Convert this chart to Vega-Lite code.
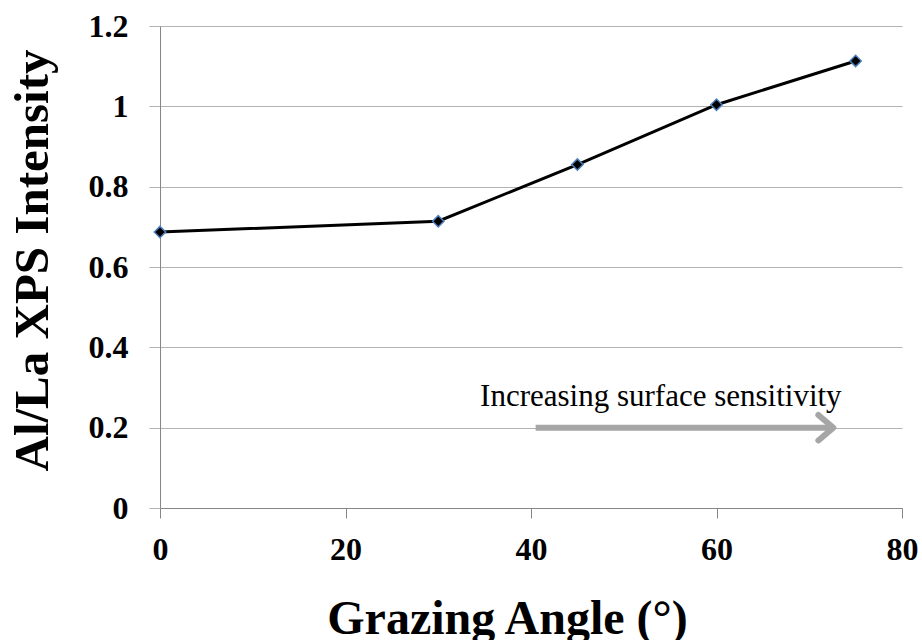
{
  "$schema": "https://vega.github.io/schema/vega-lite/v6.json",
  "width": 742,
  "height": 482,
  "autosize": "none",
  "padding": {"left": 160, "top": 26, "right": 20, "bottom": 132},
  "background": "white",
  "config": {
    "view": {"stroke": null},
    "font": "Liberation Serif"
  },
  "datasets": {
    "series": [
      {"angle": 0, "ratio": 0.687},
      {"angle": 30, "ratio": 0.714},
      {"angle": 45, "ratio": 0.855},
      {"angle": 60, "ratio": 1.004},
      {"angle": 75, "ratio": 1.113}
    ],
    "arrow": [
      {"x1": 40.5, "x2": 72.3, "y": 0.2}
    ],
    "head": [
      {"x": 72.6, "y": 0.2}
    ],
    "note": [
      {"x": 54.0, "y": 0.254, "label": "Increasing surface sensitivity"}
    ]
  },
  "layer": [
    {
      "data": {"name": "series"},
      "mark": {"type": "line", "color": "black", "strokeWidth": 3},
      "encoding": {
        "x": {
          "field": "angle", "type": "quantitative",
          "scale": {"domain": [0, 80], "nice": false},
          "axis": {
            "title": "Grazing Angle (°)",
            "values": [0, 20, 40, 60, 80],
            "grid": false,
            "domainColor": "#868686",
            "tickColor": "#868686",
            "tickSize": 10,
            "labelFont": "Liberation Serif",
            "labelFontWeight": "bold",
            "labelFontSize": 32,
            "labelColor": "black",
            "labelPadding": 16,
            "labelFlush": false,
            "titleFont": "Liberation Serif",
            "titleFontWeight": "bold",
            "titleFontSize": 48,
            "titleColor": "black",
            "titleX": 347,
            "titleY": 125,
            "titleBaseline": "alphabetic",
            "titleAlign": "center"
          }
        },
        "y": {
          "field": "ratio", "type": "quantitative",
          "scale": {"domain": [0, 1.2], "nice": false},
          "axis": {
            "title": "Al/La XPS Intensity",
            "values": [0, 0.2, 0.4, 0.6, 0.8, 1.0, 1.2],
            "labelExpr": "datum.value == 0 ? '0' : datum.value == 1 ? '1' : format(datum.value, '.1f')",
            "grid": true,
            "gridColor": "#b3b3b3",
            "gridWidth": 1,
            "domainColor": "#868686",
            "tickColor": "#b3b3b3",
            "tickSize": 11,
            "labelFont": "Liberation Serif",
            "labelFontWeight": "bold",
            "labelFontSize": 32,
            "labelColor": "black",
            "labelPadding": 21,
            "labelFlush": false,
            "titleFont": "Liberation Serif",
            "titleFontWeight": "bold",
            "titleFontSize": 49,
            "titleColor": "black",
            "titleAngle": -90,
            "titleX": -113,
            "titleY": 234,
            "titleBaseline": "alphabetic",
            "titleAlign": "center"
          }
        }
      }
    },
    {
      "data": {"name": "series"},
      "mark": {"type": "point", "shape": "diamond", "filled": true, "color": "black", "stroke": "#4f81bd", "strokeWidth": 1.5, "size": 130, "opacity": 1},
      "encoding": {
        "x": {"field": "angle", "type": "quantitative"},
        "y": {"field": "ratio", "type": "quantitative"}
      }
    },
    {
      "data": {"name": "arrow"},
      "mark": {"type": "rule", "color": "#a6a6a6", "strokeWidth": 6},
      "encoding": {
        "x": {"field": "x1", "type": "quantitative"},
        "x2": {"field": "x2"},
        "y": {"field": "y", "type": "quantitative"}
      }
    },
    {
      "data": {"name": "head"},
      "mark": {"type": "point", "shape": "M-1,-0.85L0,0L-1,0.85", "filled": false, "stroke": "#a6a6a6", "strokeWidth": 6, "strokeCap": "round", "strokeJoin": "round", "size": 900, "opacity": 1},
      "encoding": {
        "x": {"field": "x", "type": "quantitative"},
        "y": {"field": "y", "type": "quantitative"}
      }
    },
    {
      "data": {"name": "note"},
      "mark": {"type": "text", "font": "Liberation Serif", "fontSize": 31, "color": "black", "baseline": "alphabetic", "align": "center"},
      "encoding": {
        "x": {"field": "x", "type": "quantitative"},
        "y": {"field": "y", "type": "quantitative"},
        "text": {"field": "label"}
      }
    }
  ]
}
